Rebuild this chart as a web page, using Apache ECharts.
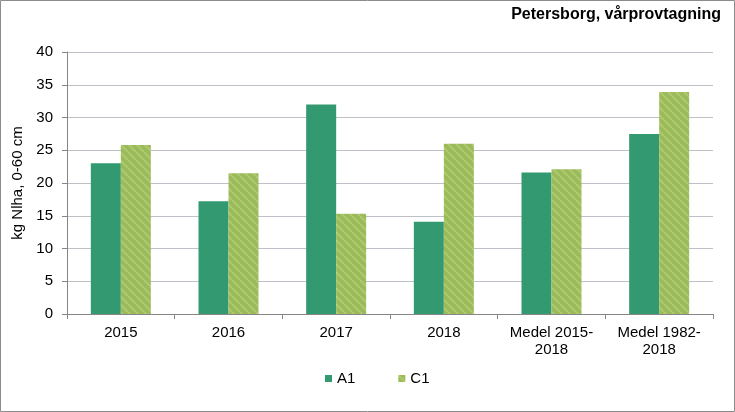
<!DOCTYPE html>
<html><head><meta charset="utf-8">
<script src="https://cdn.jsdelivr.net/npm/echarts@6/dist/echarts.min.js"></script>
<style>html,body{margin:0;padding:0;background:#fff}#c{width:735px;height:412px}</style>
</head><body><div id="c"></div>
<script>
const categories = ['2015', '2016', '2017', '2018', 'Medel 2015-\n2018', 'Medel 1982-\n2018'];
const seriesA1 = [23.0, 17.2, 32.0, 14.1, 21.6, 27.5];
const seriesC1 = [25.8, 21.5, 15.3, 26.0, 22.1, 33.9];
const yTicks = {min: 0, max: 40, interval: 5};

function stripePattern() {
  const c = document.createElement('canvas');
  c.width = 8; c.height = 8;
  const g = c.getContext('2d');
  g.fillStyle = '#9bbb59';
  g.fillRect(0, 0, 8, 8);
  g.strokeStyle = '#adc972';
  g.lineWidth = 2;
  for (let k = -8; k <= 16; k += 8) {
    g.beginPath(); g.moveTo(k, 0); g.lineTo(k + 8, 8); g.stroke();
  }
  return c;
}

const chart = echarts.init(document.getElementById('c'));
const font = 'Liberation Sans, Arial, sans-serif';
chart.setOption({
  animation: false,
  textStyle: {fontFamily: font},
  graphic: [
    {type: 'rect', shape: {x: 0.5, y: 0.5, width: 734, height: 411}, style: {fill: 'none', stroke: '#8c8c8c', lineWidth: 1}, silent: true},
    {type: 'text', right: 14, top: 7, style: {text: 'Petersborg, vårprovtagning', font: 'bold 16px Liberation Sans, Arial, sans-serif', fill: '#000'}}
  ],
  grid: {left: 67, right: 22, top: 52, bottom: 98},
  legend: {
    top: 366, left: 320, itemGap: 43, itemWidth: 7, itemHeight: 7, icon: 'rect',
    textStyle: {fontSize: 15, color: '#000', fontFamily: font},
    data: ['A1', 'C1']
  },
  xAxis: {
    type: 'category', data: categories,
    axisLine: {lineStyle: {color: '#868686'}},
    axisTick: {show: true, interval: 0, alignWithLabel: false, length: 5, lineStyle: {color: '#868686'}},
    axisLabel: {interval: 0, color: '#000', fontSize: 15, margin: 10, lineHeight: 17, fontFamily: font}
  },
  yAxis: {
    type: 'value', min: yTicks.min, max: yTicks.max, interval: yTicks.interval,
    name: 'kg Nlha, 0-60 cm', nameLocation: 'middle', nameGap: 42, nameRotate: 90,
    nameTextStyle: {fontSize: 15, color: '#000', fontFamily: font},
    axisLine: {show: true, lineStyle: {color: '#868686'}},
    axisTick: {show: true, length: 5, lineStyle: {color: '#868686'}},
    axisLabel: {color: '#000', fontSize: 15, margin: 14, fontFamily: font},
    splitLine: {lineStyle: {color: '#c0c0c8'}}
  },
  series: [
    {name: 'A1', type: 'bar', data: seriesA1, barWidth: 30, barGap: '0%', itemStyle: {color: '#339970'}},
    {name: 'C1', type: 'bar', data: seriesC1, barWidth: 30, itemStyle: {color: {image: stripePattern(), repeat: 'repeat'}}}
  ]
});
</script></body></html>
